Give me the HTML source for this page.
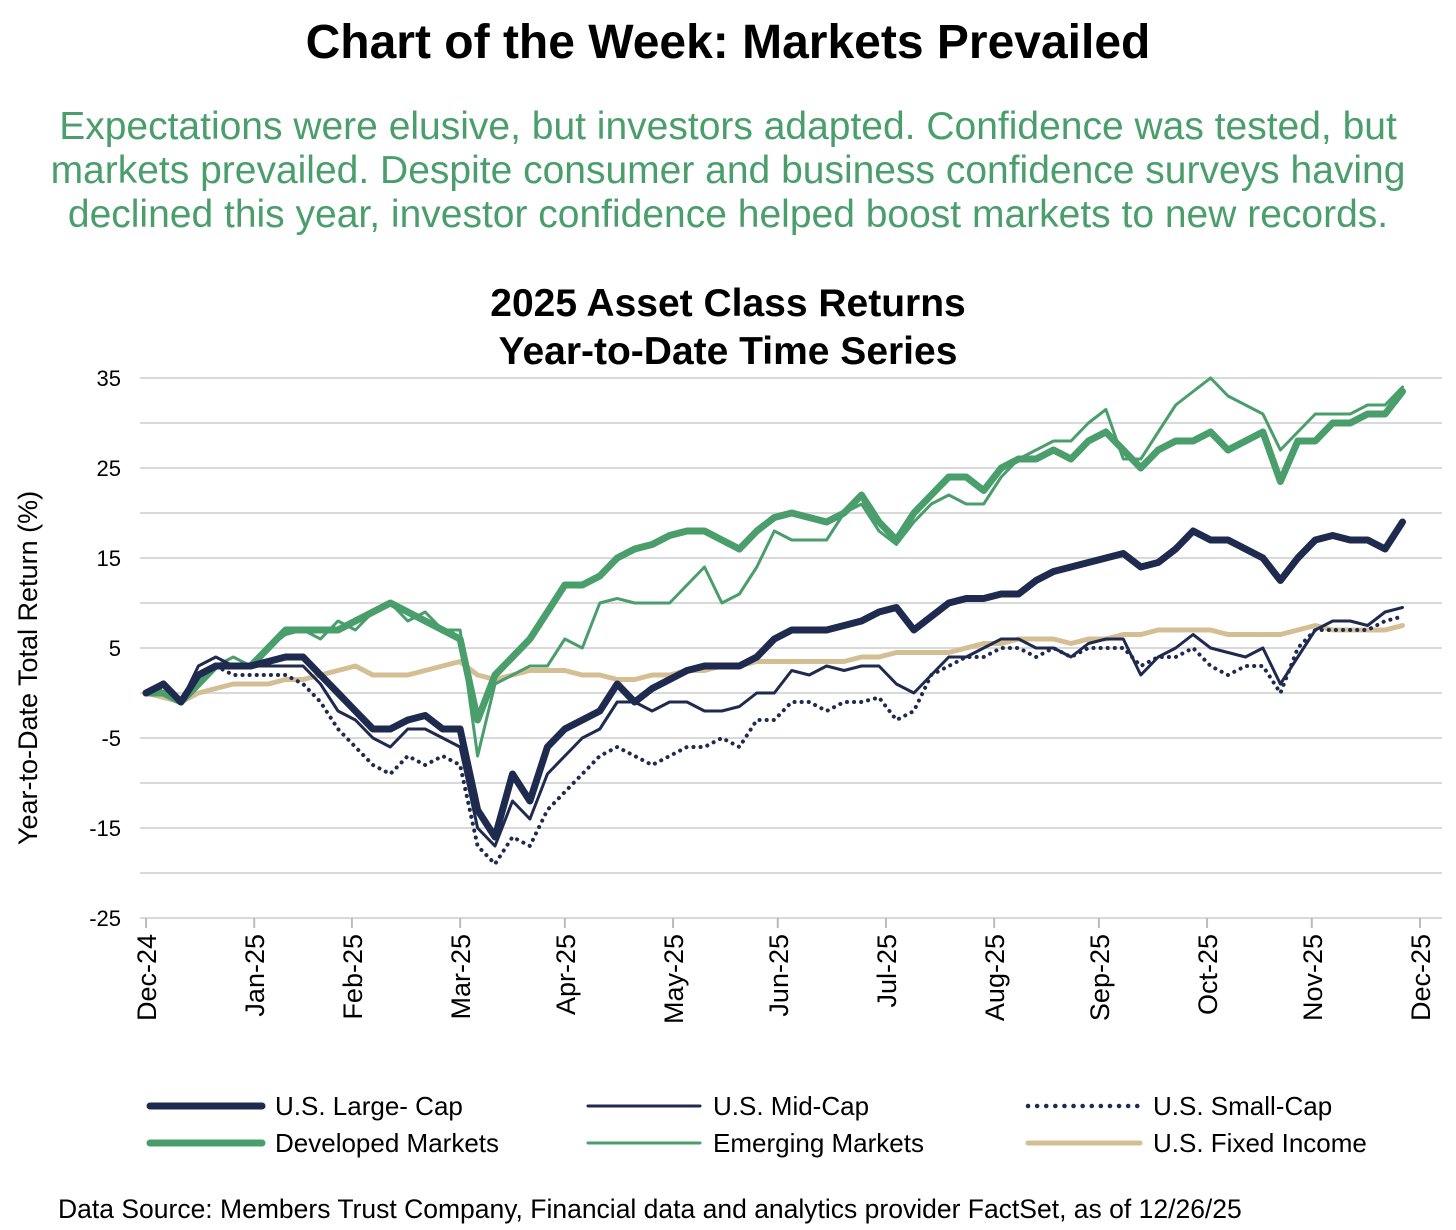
<!DOCTYPE html>
<html><head><meta charset="utf-8">
<style>
body{margin:0;background:#fff;font-family:"Liberation Sans",Arial,sans-serif;}
#wrap{position:relative;width:1456px;height:1230px;overflow:hidden;}
.t{position:absolute;left:0;width:1456px;text-align:center;white-space:nowrap;}
</style></head>
<body>
<div id="wrap">
<div class="t" style="top:15px;font-size:48px;font-weight:bold;color:#000;">Chart of the Week: Markets Prevailed</div>
<div class="t" style="top:105px;font-size:39px;line-height:44px;color:#4a9e6b;">Expectations were elusive, but investors adapted. Confidence was tested, but<br>markets prevailed. Despite consumer and business confidence surveys having<br>declined this year, investor confidence helped boost markets to new records.</div>
<svg id="chart" width="1456" height="1230" style="position:absolute;left:0;top:0"></svg>
</div>
<script>
const days=[];for(let i=0;i<=72;i++)days.push(i*5);
const largeCap=[0,1,-1,2,3,3,3,3.5,4,4,2,0,-2,-4,-4,-3,-2.5,-4,-4,-13,-16,-9,-12,-6,-4,-3,-2,1,-1,0.5,1.5,2.5,3,3,3,4,6,7,7,7,7.5,8,9,9.5,7,8.5,10,10.5,10.5,11,11,12.5,13.5,14,14.5,15,15.5,14,14.5,16,18,17,17,16,15,12.5,15,17,17.5,17,17,16,19];
const midCap=[0,1,-1,3,4,3,3,3,3,3,1,-2,-3,-5,-6,-4,-4,-5,-6,-15,-17,-12,-14,-9,-7,-5,-4,-1,-1,-2,-1,-1,-2,-2,-1.5,0,0,2.5,2,3,2.5,3,3,1,0,2,4,4,5,6,6,5,5,4,5.5,6,6,2,4,5,6.5,5,4.5,4,5,1,4,7,8,8,7.5,9,9.5];
const smallCap=[0,0.5,-1,2,3,2,2,2,2,1,-1,-4,-6,-8,-9,-7,-8,-7,-8,-17,-19,-16,-17,-13,-11,-9,-7,-6,-7,-8,-7,-6,-6,-5,-6,-3,-3,-1,-1,-2,-1,-1,-0.5,-3,-2,2,3,4,4,5,5,4,5,4,5,5,5,3,4,4,5,3,2,3,3,0,5,7,7,7,7,8,8.5];
const developed=[0,0,-1,1,3,3,3,5,7,7,7,7,8,9,10,9,8,7,6,-3,2,4,6,9,12,12,13,15,16,16.5,17.5,18,18,17,16,18,19.5,20,19.5,19,20,22,19,17,20,22,24,24,22.5,25,26,26,27,26,28,29,27,25,27,28,28,29,27,28,29,23.5,28,28,30,30,31,31,33.5];
const emerging=[0,0,-1,1,3,4,3,5,6.5,7,6,8,7,9,10,8,9,7,7,-7,1,2,3,3,6,5,10,10.5,10,10,10,12,14,10,11,14,18,17,17,17,20,21,18,16.5,19,21,22,21,21,24,26,27,28,28,30,31.5,26,26,29,32,33.5,35,33,32,31,27,29,31,31,31,32,32,34];
const fixedIncome=[0,-0.5,-1,0,0.5,1,1,1,1.5,1.5,2,2.5,3,2,2,2,2.5,3,3.5,2,1.5,2,2.5,2.5,2.5,2,2,1.5,1.5,2,2,2.5,2.5,3,3,3.5,3.5,3.5,3.5,3.5,3.5,4,4,4.5,4.5,4.5,4.5,5,5.5,5.5,6,6,6,5.5,6,6,6.5,6.5,7,7,7,7,6.5,6.5,6.5,6.5,7,7.5,7,7,7,7,7.5];
const yTicks=[35,25,15,5,-5,-15,-25];
const gridVals=[35,30,25,20,15,10,5,0,-5,-10,-15,-20,-25];
const monthLabels=["Dec-24","Jan-25","Feb-25","Mar-25","Apr-25","May-25","Jun-25","Jul-25","Aug-25","Sep-25","Oct-25","Nov-25","Dec-25"];
const monthDays=[0,31,59,90,120,151,181,212,243,273,304,334,365];

const NS="http://www.w3.org/2000/svg";
const svg=document.getElementById('chart');
const X0=146,X1=1420,Y0=378,Y1=918;
const FF='Liberation Sans, sans-serif';
const xs=d=>X0+(X1-X0)*d/365;
const ys=v=>Y0+(35-v)*(Y1-Y0)/60;
function mk(tag,attrs,parent){const e=document.createElementNS(NS,tag);for(const k in attrs)e.setAttribute(k,attrs[k]);(parent||svg).appendChild(e);return e;}

let t=mk('text',{x:728,y:316,'text-anchor':'middle','font-size':39,'font-weight':'bold','font-family':FF});t.textContent='2025 Asset Class Returns';


t=mk('text',{x:728,y:364,'text-anchor':'middle','font-size':39,'font-weight':'bold','font-family':FF});t.textContent='Year-to-Date Time Series';



gridVals.forEach(v=>{const l=mk('line',{x1:140,x2:1442,y1:ys(v),y2:ys(v),stroke:'#d9d9d9','stroke-width':2});

});
yTicks.forEach(v=>{const e=mk('text',{x:121,y:ys(v)+8,'text-anchor':'end','font-size':22,'font-family':FF});e.textContent=v;

});
t=mk('text',{transform:'translate(37,668) rotate(-90)','text-anchor':'middle','font-size':27,'font-family':FF});t.textContent='Year-to-Date Total Return (%)';


monthDays.forEach((d,i)=>{const x=xs(d);
const tk=mk('line',{x1:x,x2:x,y1:918,y2:928,stroke:'#bbb','stroke-width':2});


const e=mk('text',{transform:`translate(${x+10},934) rotate(-90)`,'text-anchor':'end','font-size':27,'font-family':FF});e.textContent=monthLabels[i];

});

function series(vals,color,w,name,dash){const p=vals.map((v,i)=>(i?'L':'M')+xs(days[i]).toFixed(1)+','+ys(v).toFixed(1)).join('');
const a={d:p,fill:'none',stroke:color,'stroke-width':w,'stroke-linejoin':'round','stroke-linecap':'round'};if(dash)a['stroke-dasharray']=dash;
const e=mk('path',a);

}
series(fixedIncome,'#d4bf94',5,'series-fixed-income');
series(smallCap,'#1f2a4f',4,'series-small-cap','0.1 7');
series(emerging,'#4a9e6b',3,'series-emerging-markets');
series(midCap,'#1f2a4f',3,'series-mid-cap');
series(developed,'#4a9e6b',7,'series-developed-markets');
series(largeCap,'#1f2a4f',7,'series-large-cap');

const legend=[["U.S. Large- Cap",'#1f2a4f',7,null,150,1106],["U.S. Mid-Cap",'#1f2a4f',3,null,588,1106],["U.S. Small-Cap",'#1f2a4f',4.5,'0.1 9',1028,1106],
["Developed Markets",'#4a9e6b',7,null,150,1143],["Emerging Markets",'#4a9e6b',3,null,588,1143],["U.S. Fixed Income",'#d4bf94',5,null,1028,1143]];
legend.forEach(l=>{const g=mk('g',{});


const a={x1:l[4],x2:l[4]+112,y1:l[5],y2:l[5],stroke:l[1],'stroke-width':l[2],'stroke-linecap':'round'};if(l[3])a['stroke-dasharray']=l[3];
mk('line',a,g);
const e=mk('text',{x:l[4]+125,y:l[5]+9,'font-size':26,'font-family':FF},g);e.textContent=l[0];});
t=mk('text',{x:58,y:1218,'font-size':26.5,'font-family':FF});t.textContent='Data Source: Members Trust Company, Financial data and analytics provider FactSet, as of 12/26/25';


</script>
</body></html>
